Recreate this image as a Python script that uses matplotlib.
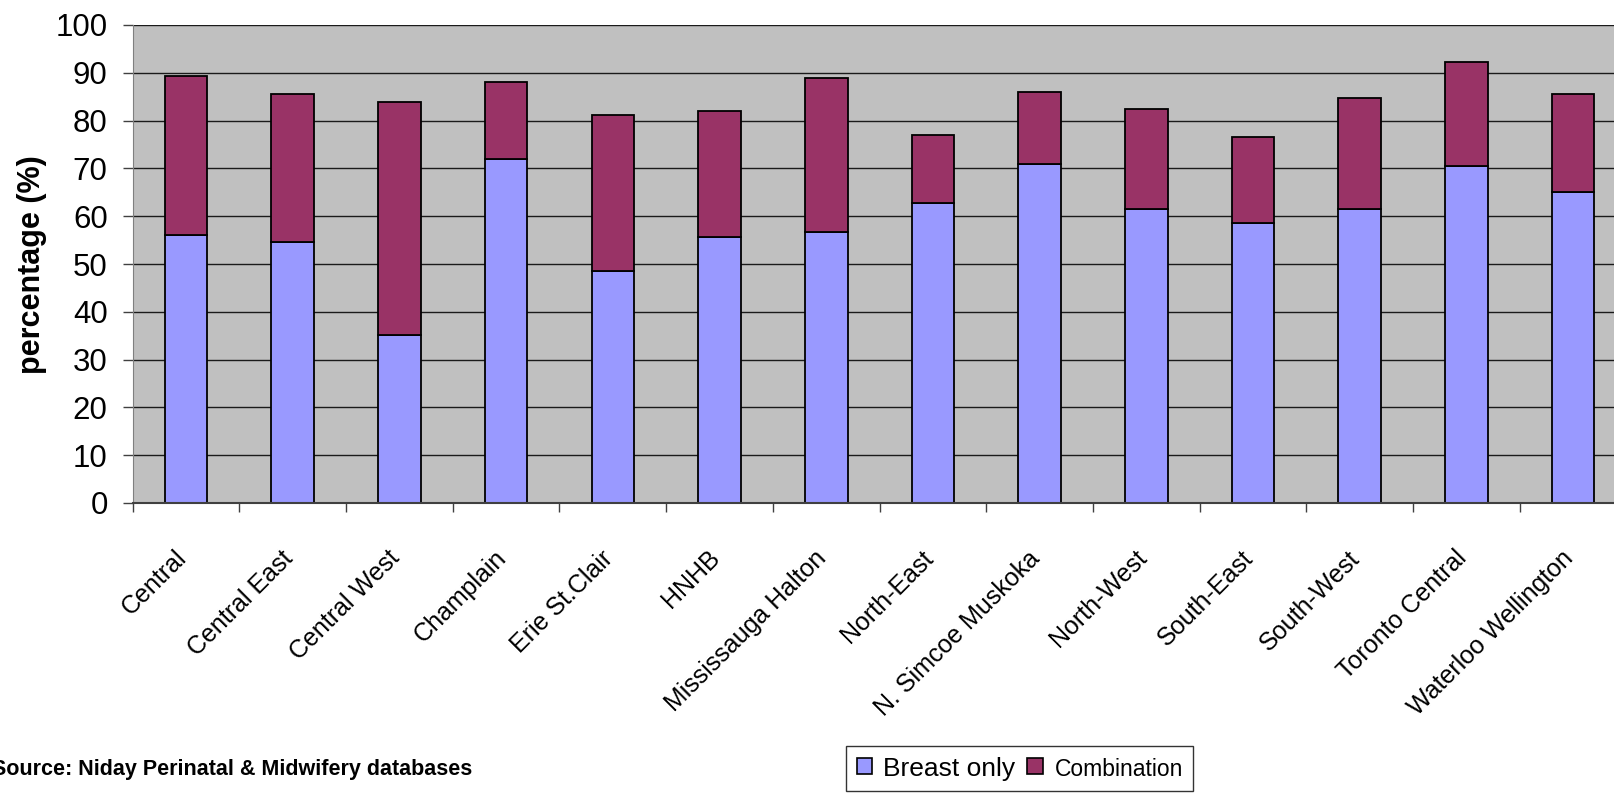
import matplotlib
matplotlib.use("Agg")
import matplotlib.pyplot as plt
from matplotlib.patches import Patch
from matplotlib.transforms import ScaledTranslation
import numpy as np

plt.rcParams['font.family'] = ['Liberation Sans', 'DejaVu Sans']

# LHIN regions and feeding rates (%)
regions = ['Central', 'Central East', 'Central West', 'Champlain',
           'Erie St.Clair', 'HNHB', 'Mississauga Halton', 'North-East',
           'N. Simcoe Muskoka', 'North-West', 'South-East', 'South-West',
           'Toronto Central', 'Waterloo Wellington']
breast_only = [56.1, 54.5, 35.2, 71.9, 48.5, 55.6, 56.6, 62.8,
               71.0, 61.6, 58.6, 61.6, 70.5, 65.1]
combination = [33.3, 31.1, 48.6, 16.2, 32.7, 26.5, 32.3, 14.2,
               14.9, 20.9, 18.0, 23.1, 21.8, 20.5]
yticks = [0, 10, 20, 30, 40, 50, 60, 70, 80, 90, 100]

W, H = 1614, 793
fig = plt.figure(figsize=(W / 100, H / 100), dpi=100)
ax = fig.add_axes([132.7 / W, 1 - 503 / H, 1493.8 / W, 478 / H])

ind = np.arange(len(regions))
width = 0.4
ax.set_facecolor('#c0c0c0')
ax.set_axisbelow(True)
ax.yaxis.grid(True, color='#1a1a1a', lw=1.0)

b1 = ax.bar(ind, breast_only, width, color='#9999ff', edgecolor='black', lw=1.3)
b2 = ax.bar(ind, combination, width, bottom=breast_only, color='#993366',
            edgecolor='black', lw=1.3)

ax.set_xlim(-0.5, len(regions) - 0.5)
ax.set_ylim(0, 100)
ax.set_yticks(yticks)
ax.tick_params(axis='y', length=7.2, width=1, color='#404040', pad=10.8, labelsize=22.5)

# labels sit under the bars, tick marks between categories
ax.set_xticks(ind)
ax.set_xticklabels(regions, rotation=45, ha='right', va='top',
                   rotation_mode='anchor', fontsize=18)
ax.tick_params(axis='x', which='major', length=0, pad=31)
shift = ScaledTranslation(-0.12, 0, fig.dpi_scale_trans)
for lab in ax.get_xticklabels():
    lab.set_transform(lab.get_transform() + shift)
ax.set_xticks(np.arange(len(regions) + 1) - 0.5, minor=True)
ax.tick_params(axis='x', which='minor', length=6.5, width=1, color='#404040')

for s in ('top', 'right'):
    ax.spines[s].set_visible(False)
ax.spines['left'].set_color('#808080')
ax.spines['bottom'].set_color('#404040')
ax.spines['bottom'].set_linewidth(1.5)

fig.text(32 / W, 1 - 265 / H, 'percentage (%)', rotation=90, ha='center',
         va='center', fontsize=22, fontweight='bold')

fig.text(-8 / W, 1 - 775 / H, 'Source: Niday Perinatal & Midwifery databases',
         ha='left', va='baseline', fontsize=15.5, fontweight='bold')

handles = [Patch(facecolor='#9999ff', edgecolor='black', lw=1.2),
           Patch(facecolor='#993366', edgecolor='black', lw=1.2)]
leg = fig.legend(handles, ['Breast only', 'Combination'], ncol=2,
                 loc='upper left', bbox_to_anchor=(846 / W, 1 - 746 / H),
                 frameon=True, fancybox=False, edgecolor='black',
                 prop={'size': 19},
                 handlelength=0.57, handleheight=0.57, handletextpad=0.45,
                 columnspacing=0.45, borderpad=0.4, borderaxespad=0)
leg.get_frame().set_linewidth(1.0)
leg.get_texts()[1].set_fontsize(16.5)

plt.savefig('out.png', dpi=100)
